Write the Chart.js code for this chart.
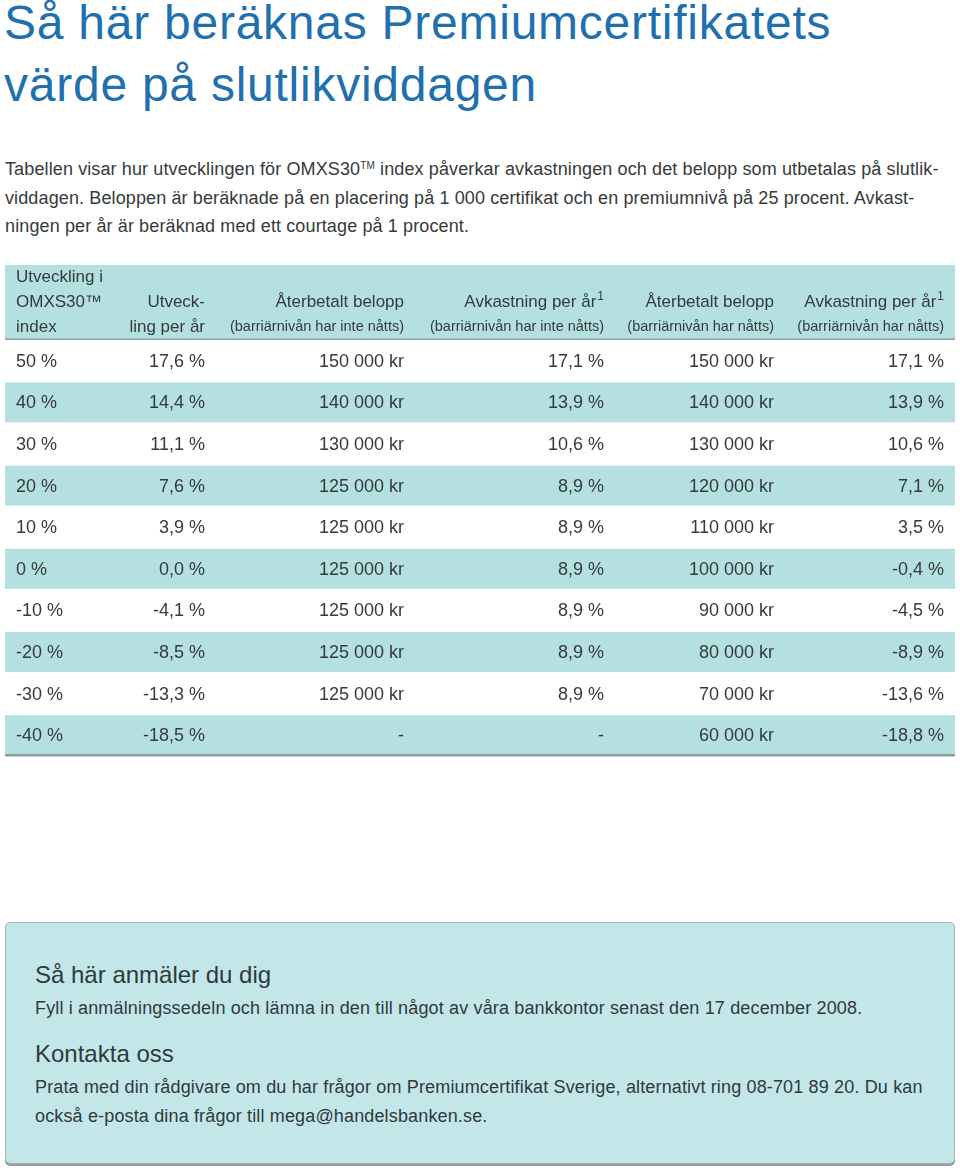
<!DOCTYPE html>
<html lang="sv">
<head>
<meta charset="utf-8">
<script src="https://cdn.jsdelivr.net/npm/chart.js@4.4.1/dist/chart.umd.min.js"></script>
<style>
  body { margin: 0; background: #fff; font-family: "Liberation Sans", Arial, sans-serif; color: #353a3b; }
  #page { position: relative; width: 960px; height: 1170px; overflow: hidden; }
  #title { position: absolute; left: 4px; top: -8px; font-size: 48px; line-height: 62px; color: #1f70ae; white-space: nowrap; letter-spacing: 0.75px; }
  #intro { position: absolute; left: 5px; top: 155px; font-size: 18px; line-height: 28.5px; white-space: nowrap; letter-spacing: 0.12px; }
  #intro sup { font-size: 10px; vertical-align: 6px; line-height: 0; }
  #table-wrap { position: absolute; left: 0; top: 262px; width: 960px; height: 500px; }
  #info { position: absolute; left: 5px; top: 922px; width: 948px; height: 240px; background: #c3e6e8;
          border: 1px solid #9fb2b4; border-radius: 5px; box-shadow: 0 2px 0 #8f9fa1; }
  #info h3 { margin: 0; font-weight: normal; font-size: 24px; position: absolute; left: 29px; color: #2f3a3c; }
  #info p { margin: 0; font-size: 18px; line-height: 28.5px; position: absolute; left: 29px; white-space: nowrap; color: #2f3a3c; letter-spacing: 0.15px; }
</style>
</head>
<body>
<div id="page">
  <div id="title">Så här beräknas Premiumcertifikatets<br>värde på slutlikviddagen</div>
  <div id="intro">
    Tabellen visar hur utvecklingen för OMXS30<sup>TM</sup> index påverkar avkastningen och det belopp som utbetalas på slutlik-<br>
    viddagen. Beloppen är beräknade på en placering på 1 000 certifikat och en premiumnivå på 25 procent. Avkast-<br>
    ningen per år är beräknad med ett courtage på 1 procent.
  </div>
  <div id="table-wrap"><canvas id="table-chart" width="960" height="500"></canvas></div>
  <div id="info">
    <h3 style="top:38px">Så här anmäler du dig</h3>
    <p style="top:71px">Fyll i anmälningssedeln och lämna in den till något av våra bankkontor senast den 17 december 2008.</p>
    <h3 style="top:117px">Kontakta oss</h3>
    <p style="top:150px">Prata med din rådgivare om du har frågor om Premiumcertifikat Sverige, alternativt ring 08-701 89 20. Du kan<br>också e-posta dina frågor till mega@handelsbanken.se.</p>
  </div>
</div>
<script>
// table values (percent / kronor), null = not applicable
const indexChange = [50, 40, 30, 20, 10, 0, -10, -20, -30, -40];
const perYear = [17.6, 14.4, 11.1, 7.6, 3.9, 0.0, -4.1, -8.5, -13.3, -18.5];
const repaidNotHit = [150000, 140000, 130000, 125000, 125000, 125000, 125000, 125000, 125000, null];
const returnNotHit = [17.1, 13.9, 10.6, 8.9, 8.9, 8.9, 8.9, 8.9, 8.9, null];
const repaidHit = [150000, 140000, 130000, 120000, 110000, 100000, 90000, 80000, 70000, 60000];
const returnHit = [17.1, 13.9, 10.6, 7.1, 3.5, -0.4, -4.5, -8.9, -13.6, -18.8];

const headers = [
  { lines: ['Utveckling i', 'OMXS30™', 'index'], small: false, align: 'left' },
  { lines: ['Utveck-', 'ling per år'], small: false },
  { lines: ['Återbetalt belopp', '(barriärnivån har inte nåtts)'], small: true },
  { lines: ['Avkastning per år', '(barriärnivån har inte nåtts)'], small: true, sup: '1' },
  { lines: ['Återbetalt belopp', '(barriärnivån har nåtts)'], small: true },
  { lines: ['Avkastning per år', '(barriärnivån har nåtts)'], small: true, sup: '1' }
];

const TEAL = '#b5e0e2';
const TEXT = '#353a3b';
const FONT = '"Liberation Sans", Arial, sans-serif';
const TABLE_W = 950;
// column anchors on the x scale (left edge for first column, right edge for the others)
const colAnchors = [11, 200, 399, 599, 769, 939];

function pct(v) {
  if (v === null) return '-';
  return v.toFixed(1).replace('.', ',') + ' %';
}
function kr(v) {
  if (v === null) return '-';
  return String(v).replace(/\B(?=(\d{3})+(?!\d))/g, ' ') + ' kr';
}

const rowLabels = indexChange.map(v => v + ' %');
const columns = [
  rowLabels,
  perYear.map(pct),
  repaidNotHit.map(kr),
  returnNotHit.map(pct),
  repaidHit.map(kr),
  returnHit.map(pct)
];

const tablePlugin = {
  id: 'tableText',
  beforeDatasetsDraw(chart) {
    const { ctx, chartArea, scales: { x } } = chart;
    const left = x.getPixelForValue(0);
    const right = x.getPixelForValue(TABLE_W);
    ctx.save();
    ctx.fillStyle = TEAL;
    ctx.fillRect(left, chartArea.top - 75, right - left, 74);
    ctx.restore();
  },
  afterDatasetsDraw(chart) {
    const { ctx, chartArea, scales: { x, y } } = chart;
    const left = x.getPixelForValue(0);
    const right = x.getPixelForValue(TABLE_W);
    ctx.save();

    // rule under header and under last row
    ctx.fillStyle = '#8e9c9d';
    ctx.fillRect(left, chartArea.top - 1.5, right - left, 1.5);
    ctx.fillRect(left, chartArea.bottom - 2, right - left, 2.5);

    // header text
    ctx.fillStyle = TEXT;
    ctx.textBaseline = 'middle';
    headers.forEach((h, c) => {
      const ax = x.getPixelForValue(colAnchors[c]);
      const n = h.lines.length;
      h.lines.forEach((line, k) => {
        const yy = chartArea.top - 13 - (n - 1 - k) * 25;
        const isSmall = h.small && k === n - 1;
        ctx.font = (isSmall ? '14.5px ' : '17px ') + FONT;
        if (h.align === 'left') {
          ctx.textAlign = 'left';
          ctx.fillText(line, ax, yy);
        } else if (h.sup && k === 0) {
          ctx.font = '12px ' + FONT;
          const sw = ctx.measureText(h.sup).width;
          ctx.textAlign = 'right';
          ctx.fillText(h.sup, ax, yy - 5);
          ctx.font = '17px ' + FONT;
          ctx.fillText(line, ax - sw - 1, yy);
        } else {
          ctx.textAlign = 'right';
          ctx.fillText(line, ax, yy);
        }
      });
    });

    // body cells
    ctx.font = '18px ' + FONT;
    columns.forEach((col, c) => {
      const ax = x.getPixelForValue(colAnchors[c]);
      ctx.textAlign = c === 0 ? 'left' : 'right';
      col.forEach((txt, r) => {
        ctx.fillText(txt, ax, y.getPixelForValue(r) + 1);
      });
    });
    ctx.restore();
  }
};

const ctx = document.getElementById('table-chart').getContext('2d');
new Chart(ctx, {
  type: 'bar',
  data: {
    labels: rowLabels,
    datasets: [{
      label: 'rader',
      data: indexChange.map((_, i) => (i % 2 === 1 ? [0, TABLE_W] : null)),
      backgroundColor: TEAL,
      borderWidth: 0,
      barPercentage: 0.96,
      categoryPercentage: 1
    }]
  },
  options: {
    indexAxis: 'y',
    responsive: false,
    maintainAspectRatio: false,
    animation: false,
    events: [],
    layout: { padding: { top: 78, bottom: 6, left: 5, right: 5 } },
    plugins: { legend: { display: false }, tooltip: { enabled: false } },
    scales: {
      x: { type: 'linear', min: 0, max: TABLE_W, display: false },
      y: { type: 'category', display: false }
    }
  },
  plugins: [tablePlugin]
});
</script>
</body>
</html>
